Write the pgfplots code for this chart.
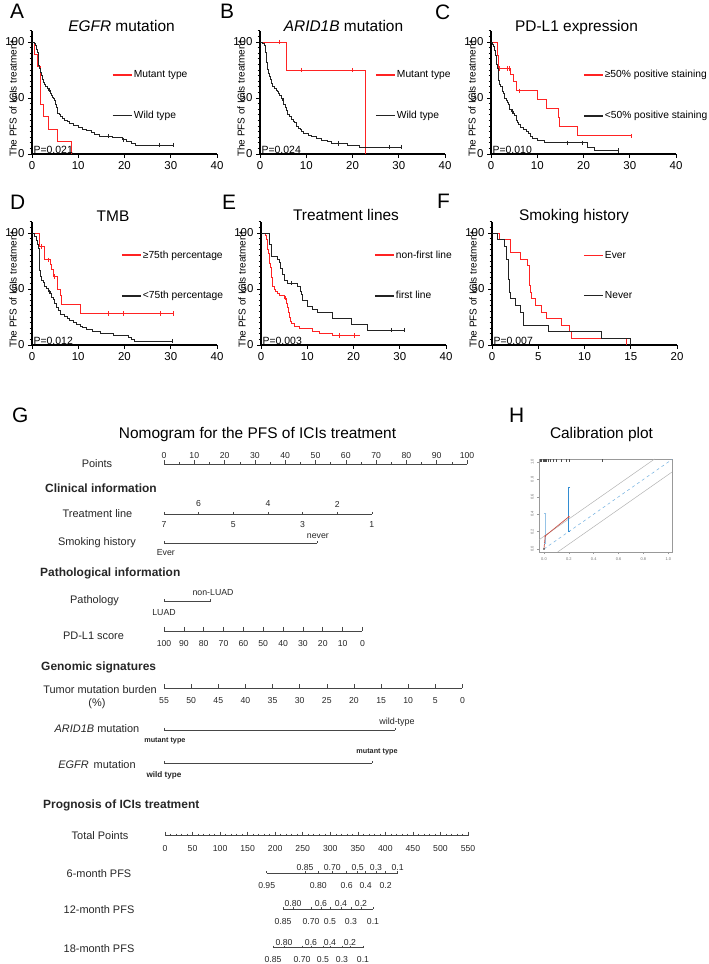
\documentclass[border=0pt]{standalone}
\usepackage{pgfplots}
\pgfplotsset{compat=1.18}
\usepackage{fontspec}
\setmainfont{Liberation Sans}
\definecolor{kmred}{RGB}{255,35,35}
\definecolor{kmblk}{RGB}{35,35,35}
\definecolor{calred}{RGB}{200,80,70}
\definecolor{calblue}{RGB}{50,140,210}
\definecolor{callblue}{RGB}{150,195,230}
\definecolor{nomo}{RGB}{70,70,70}
\tikzset{ptext/.style={anchor=base west, font=\fontsize{10.5}{12}\selectfont, inner sep=0pt}}
\pgfplotsset{
 km/.style={
  scale only axis, width=185bp, height=123.2bp, anchor=south west,
  xmin=0, xmax=40, ymin=0, ymax=110,
  axis lines=left, axis line style={-, line width=1.1bp, black},
  xtick={0,10,20,30,40}, ytick={0,50,100},
  minor ytick={5,10,...,110},
  tick align=outside, major tick length=4bp, minor tick length=2.3bp,
  tick style={black, line width=0.9bp},
  tick label style={font=\fontsize{11.5}{13}\selectfont},
  /pgf/number format/assume math mode=true,
  ylabel={The PFS of ICIs treatment},
  ylabel style={at={(axis description cs:-0.103,0.446)}, anchor=center, font=\fontsize{10}{12}\selectfont},
  clip=false, const plot,
  every axis plot/.append style={line width=0.95bp},
  legend style={draw=none, fill=none, anchor=west, font=\fontsize{10.3}{12}\selectfont, row sep=31bp, inner sep=0pt, column sep=1bp, nodes={inner sep=0.5bp}},
  legend cell align=left,
  legend image code/.code={\draw[##1, line width=1.2bp] (0bp,0bp) -- (19bp,0bp);},
 },
 cens/.style={only marks, mark=|, mark size=2.2bp, forget plot, mark options={line width=0.8bp}},
 nomoaxis/.style={scale only axis, hide axis, clip=false, y dir=reverse, anchor=north west},
 nl/.style={nomo, line width=0.7bp},
 tkM/.style={only marks, mark=|, mark size=2bp, mark options={yshift=2bp, nomo, line width=0.6bp}},
 tkm/.style={only marks, mark=|, mark size=1.1bp, mark options={yshift=1.1bp, nomo, line width=0.5bp}},
 lbl/.style={only marks, mark=none, point meta=explicit symbolic, nodes near coords, nodes near coords align={anchor=center}, every node near coord/.append style={anchor=center, inner sep=0pt, text=black!85, font=#1}},
 lbl/.default={\fontsize{8.7}{9}\selectfont},
}
\newcommand\rowlab[3]{\node[anchor=center, font=\fontsize{11}{13}\selectfont, text=black!85] at (#1bp,#2bp) {#3};}
\newcommand\header[3]{\node[anchor=west, font=\bfseries\fontsize{12}{14}\selectfont, text=black!85, inner sep=0pt] at (#1bp,#2bp) {#3};}
\newcommand\panel[3]{\node[anchor=base west, font=\fontsize{21}{24}\selectfont, inner sep=0pt] at (#1bp,#2bp) {#3};}
\newcommand\ptitle[3]{\node[anchor=base, font=\fontsize{15.5}{18}\selectfont, inner sep=0pt] at (#1bp,#2bp) {#3};}
\begin{document}
\begin{tikzpicture}
\useasboundingbox (0,0) rectangle (709bp,964bp);

% ---------- titles and panel letters
\panel{10}{945.7}{A}\panel{220}{945.7}{B}\panel{435}{944}{C}
\panel{10}{754}{D}\panel{222}{754}{E}\panel{437}{755.7}{F}
\panel{12}{541}{G}\panel{509}{541}{H}
\ptitle{121.5}{932.3}{\textit{EGFR} mutation}
\ptitle{343.5}{932.3}{\textit{ARID1B} mutation}
\ptitle{576.5}{932.3}{PD-L1 expression}
\ptitle{113}{742.3}{TMB}
\ptitle{346}{743}{Treatment lines}
\ptitle{574}{743.3}{Smoking history}
\ptitle{257.5}{525.7}{Nomogram for the PFS of ICIs treatment}
\ptitle{601.5}{525.7}{Calibration plot}

% ---------- A
\begin{axis}[km, at={(32bp,810bp)}, legend style={at={(axis description cs:0.432,0.475)}}]
\addplot[kmred] coordinates {(0,100)(0.6,88.9)(1.15,77.8)(1.75,44.4)(2.45,33.3)(3.55,22.2)(5.5,11.1)(8.6,0)};
\addlegendentry{Mutant type}
\addplot[kmblk] coordinates {(0,100)(0.5,98.4)(0.8,96.8)(1.0,93.7)(1.2,90.5)(1.3,87.3)(1.4,82.5)(1.5,79.4)(1.6,76.2)(1.8,73.0)(2.0,69.8)(2.2,66.7)(2.5,63.5)(2.8,61.9)(3.0,60.3)(3.3,58.7)(3.6,57.1)(3.9,55.6)(4.1,54.0)(4.3,52.4)(4.5,50.8)(4.7,49.2)(4.8,47.6)(5.0,44.4)(5.2,41.3)(5.4,38.1)(5.6,36.5)(5.9,34.9)(6.2,33.3)(6.6,31.7)(7.1,30.2)(7.6,28.6)(8.2,27.0)(9.0,25.4)(10.0,23.8)(11.0,22.2)(11.8,20.6)(12.8,19.0)(13.5,17.5)(14.5,15.9)(17.5,14.3)(19.5,12.7)(20.5,11.1)(21.5,9.5)(22.4,7.9)(30.5,7.9)};
\addlegendentry{Wild type}
\addplot[cens, kmblk] coordinates {(3.75,57.1)(16.5,15.9)(19.7,12.7)(27.5,7.9)(30.5,7.9)};
\node[ptext] at (axis cs:0.3,0.8) {P=0.021};
\end{axis}

% ---------- B
\begin{axis}[km, at={(260bp,810bp)}, legend style={at={(axis description cs:0.622,0.475)}}]
\addplot[kmred] coordinates {(0,100)(5.8,75)(22.7,0)};
\addlegendentry{Mutant type}
\addplot[kmblk] coordinates {(0,100)(0.6,98.5)(0.9,96.9)(1.1,93.8)(1.2,90.8)(1.3,87.7)(1.4,84.6)(1.5,81.5)(1.6,78.5)(1.7,75.4)(1.8,72.3)(2.0,69.2)(2.2,66.2)(2.5,63.1)(2.8,60.0)(3.2,58.5)(3.5,56.9)(3.7,55.4)(4.0,53.8)(4.3,52.3)(4.6,49.2)(4.9,47.7)(5.1,44.6)(5.4,41.5)(5.7,38.5)(6.0,35.4)(6.4,33.8)(6.8,30.8)(7.2,29.2)(7.5,27.7)(7.8,24.6)(8.3,23.1)(8.7,21.5)(9.0,20.0)(9.5,18.5)(10.5,16.9)(11.2,15.4)(12.3,13.8)(13.3,12.3)(14.5,10.8)(15.5,9.2)(19.0,7.7)(21.5,6.2)(30.6,6.2)};
\addlegendentry{Wild type}
\addplot[cens, kmred] coordinates {(4.3,100)(9.0,75)(20.0,75)};
\addplot[cens, kmblk] coordinates {(5.0,47.7)(16.9,9.2)(27.9,6.2)(30.6,6.2)};
\node[ptext] at (axis cs:0.3,0.8) {P=0.024};
\end{axis}

% ---------- C
\begin{axis}[km, at={(491bp,810bp)}, legend style={at={(axis description cs:0.497,0.475)}}]
\addplot[kmred] coordinates {(0,100)(1.3,88.2)(1.7,76.5)(4.3,70.6)(4.9,64.7)(5.5,56.5)(10.0,48.4)(12.0,40.3)(14.5,32.3)(14.9,24.2)(18.8,16.1)(30.4,16.1)};
\addlegendentry{≥50\% positive staining}
\addplot[kmblk] coordinates {(0,100)(0.3,98)(0.6,96)(0.8,92)(1.0,88)(1.1,84)(1.2,80)(1.4,76)(1.6,70)(1.7,66)(1.9,62)(2.1,60)(2.4,56)(2.7,54)(3.0,50)(3.3,48)(3.5,46)(3.8,44)(4.1,40)(4.5,38)(4.9,36)(5.1,34)(5.4,30)(5.7,28)(6.0,26)(6.4,24)(7.0,22)(7.6,20)(8.2,18)(8.6,16)(9.0,14)(10.0,12)(11.5,10)(20.8,6)(22.3,3)(27.5,3)};
\addlegendentry{<50\% positive staining}
\addplot[cens, kmred] coordinates {(1.9,76.5)(3.5,76.5)(4.0,76.5)(6.2,56.5)(30.4,16.1)};
\addplot[cens, kmblk] coordinates {(4.6,38)(16.5,10)(19.7,10)(27.5,3)};
\node[ptext] at (axis cs:0.3,0.8) {P=0.010};
\end{axis}

% ---------- D
\begin{axis}[km, at={(32bp,619bp)}, legend style={at={(axis description cs:0.481,0.564)}}]
\addplot[kmred] coordinates {(0,100)(1.7,88)(2.8,76)(3.9,72)(4.3,67)(4.6,61)(5.5,50)(6.1,44)(6.4,36)(10.5,28)(30.6,28)};
\addlegendentry{≥75th percentage}
\addplot[kmblk] coordinates {(0,100)(0.6,96.6)(0.9,93.2)(1.1,89.8)(1.4,86.4)(1.55,79.7)(1.6,72.9)(1.7,66.1)(1.8,61.0)(2.1,57.6)(2.5,55.9)(2.8,52.5)(3.2,50.8)(3.5,47.5)(3.9,45.8)(4.3,42.4)(4.6,40.7)(4.9,37.3)(5.3,33.9)(5.7,30.5)(6.1,27.1)(7.0,25.4)(7.6,23.7)(8.2,22.0)(9.0,20.3)(9.7,18.6)(10.5,16.9)(11.0,15.3)(11.8,13.6)(13.0,11.9)(14.7,10.2)(17.6,8.5)(20.8,6.8)(21.5,5.1)(22.2,3.4)(30.3,3.4)};
\addlegendentry{<75th percentage}
\addplot[cens, kmred] coordinates {(2.0,88)(3.5,76)(4.8,61)(16.5,28)(19.7,28)(27.7,28)(30.6,28)};
\addplot[cens, kmblk] coordinates {(3.7,47.5)(30.3,3.4)};
\node[ptext] at (axis cs:0.3,0.8) {P=0.012};
\end{axis}

% ---------- E
\begin{axis}[km, at={(261bp,619bp)}, legend style={at={(axis description cs:0.611,0.564)}}]
\addplot[kmred] coordinates {(0,100)(0.9,97.9)(1.1,93.8)(1.3,89.6)(1.5,85.4)(1.6,81.3)(1.8,77.1)(1.9,72.9)(2.0,68.8)(2.2,64.6)(2.3,60.4)(2.4,56.3)(2.5,52.1)(2.9,50.0)(3.2,47.9)(3.6,45.8)(4.0,43.8)(5.0,41.7)(5.5,37.5)(5.8,33.3)(6.0,29.2)(6.1,25.0)(6.3,20.8)(6.6,18.8)(7.2,16.7)(8.3,14.6)(11.2,12.5)(12.6,10.4)(15.5,8.3)(21.4,8.3)};
\addlegendentry{non-first line}
\addplot[kmblk] coordinates {(0,100)(1.8,89.5)(2.2,78.9)(3.6,76.3)(4.0,73.7)(4.3,68.4)(4.7,63.2)(5.0,57.9)(5.8,55.3)(7.9,52.6)(8.6,47.4)(8.8,44.7)(9.0,39.5)(10.1,34.2)(11.2,31.6)(12.3,28.9)(15.5,23.7)(19.5,18.4)(23.1,13.2)(31.0,13.2)};
\addlegendentry{first line}
\addplot[cens, kmred] coordinates {(5.3,41.7)(16.9,8.3)(20.2,8.3)};
\addplot[cens, kmblk] coordinates {(6.5,55.3)(28.1,13.2)(31.0,13.2)};
\node[ptext] at (axis cs:0.3,0.8) {P=0.003};
\end{axis}

% ---------- F
\begin{axis}[km, at={(492bp,619bp)}, xmax=20, xtick={0,5,10,15,20}, legend style={at={(axis description cs:0.492,0.564)}}]
\addplot[kmred] coordinates {(0,100)(0.8,94.1)(2.0,82.4)(3.1,76.5)(3.8,70.6)(4.0,58.8)(4.1,52.9)(4.2,47.1)(4.3,41.2)(4.7,35.3)(5.4,29.4)(5.9,23.5)(7.5,17.6)(8.4,11.8)(8.6,5.9)(14.5,0)};
\addlegendentry{Ever}
\addplot[kmblk] coordinates {(0,100)(0.6,94.1)(1.4,88.2)(1.6,76.5)(1.8,58.8)(1.9,47.1)(2.05,41.2)(2.5,35.3)(3.1,29.4)(3.4,17.6)(6.1,11.8)(11.8,5.9)(15.0,0)};
\addlegendentry{Never}
\node[ptext] at (axis cs:0.15,0.8) {P=0.007};
\end{axis}

% ---------- G : nomogram, predictors (x in points)
\rowlab{97}{500}{Points}
\header{45}{475.7}{Clinical information}
\rowlab{97.5}{450.7}{Treatment line}
\rowlab{97}{421.3}{Smoking history}
\header{40}{390.7}{Pathological information}
\rowlab{94.5}{363.3}{Pathology}
\rowlab{93.5}{328.3}{PD-L1 score}
\header{41}{296.7}{Genomic signatures}
\rowlab{100}{274.7}{Tumor mutation burden}
\rowlab{97}{260.7}{(\%)}
\rowlab{97}{235}{\textit{ARID1B} mutation}
\rowlab{97}{199}{\textit{EGFR}\, mutation}
\header{43}{158.3}{Prognosis of ICIs treatment}
\rowlab{100}{128}{Total Points}
\rowlab{99}{90}{6-month PFS}
\rowlab{99}{54}{12-month PFS}
\rowlab{99}{15}{18-month PFS}

\begin{axis}[nomoaxis, xmin=0, xmax=100, ymin=440, ymax=800, width=303bp, height=360bp, at={(164bp,524bp)}]
% Points
\addplot[nl] coordinates {(0,464.3)(100,464.3)};
\addplot[tkM] coordinates {(0,464.3)(10,464.3)(20,464.3)(30,464.3)(40,464.3)(50,464.3)(60,464.3)(70,464.3)(80,464.3)(90,464.3)(100,464.3)};
\addplot[tkm] coordinates {(5,464.3)(15,464.3)(25,464.3)(35,464.3)(45,464.3)(55,464.3)(65,464.3)(75,464.3)(85,464.3)(95,464.3)};
\addplot[lbl] coordinates {(0,456)[0](10,456)[10](20,456)[20](30,456)[30](40,456)[40](50,456)[50](60,456)[60](70,456)[70](80,456)[80](90,456)[90](100,456)[100]};
% Treatment line
\addplot[nl] coordinates {(0,514)(68.6,514)};
\addplot[tkm] coordinates {(0,514)(11.43,514)(22.87,514)(34.3,514)(45.73,514)(57.17,514)(68.6,514)};
\addplot[lbl] coordinates {(11.43,504)[6](34.3,504)[4](57.17,504)[2]};
\addplot[lbl] coordinates {(0,524.3)[7](22.87,524.3)[5](45.73,524.3)[3](68.6,524.3)[1]};
% Smoking history
\addplot[nl] coordinates {(0,543.3)(50.5,543.3)};
\addplot[tkm] coordinates {(0,543.3)(50.5,543.3)};
\addplot[lbl={\fontsize{8.8}{9}\selectfont}] coordinates {(50.8,536)[never]};
\addplot[lbl={\fontsize{8.8}{9}\selectfont}] coordinates {(0.6,552.7)[Ever]};
% Pathology
\addplot[nl] coordinates {(0,601.7)(15.2,601.7)};
\addplot[tkm] coordinates {(0,601.7)(15.2,601.7)};
\addplot[lbl={\fontsize{8.8}{9}\selectfont}] coordinates {(16.2,592.7)[non-LUAD]};
\addplot[lbl={\fontsize{8.8}{9}\selectfont}] coordinates {(0,612.3)[LUAD]};
% PD-L1 score
\addplot[nl] coordinates {(0,631)(65.5,631)};
\addplot[tkM] coordinates {(0,631)(6.55,631)(13.1,631)(19.65,631)(26.2,631)(32.75,631)(39.3,631)(45.85,631)(52.4,631)(58.95,631)(65.5,631)};
\addplot[lbl] coordinates {(0,643.3)[100](6.55,643.3)[90](13.1,643.3)[80](19.65,643.3)[70](26.2,643.3)[60](32.75,643.3)[50](39.3,643.3)[40](45.85,643.3)[30](52.4,643.3)[20](58.95,643.3)[10](65.5,643.3)[0]};
% Tumor mutation burden
\addplot[nl] coordinates {(0,688.3)(98.5,688.3)};
\addplot[tkM] coordinates {(0,688.3)(8.95,688.3)(17.91,688.3)(26.86,688.3)(35.82,688.3)(44.77,688.3)(53.73,688.3)(62.68,688.3)(71.64,688.3)(80.59,688.3)(89.55,688.3)(98.5,688.3)};
\addplot[lbl] coordinates {(0,700.7)[55](8.95,700.7)[50](17.91,700.7)[45](26.86,700.7)[40](35.82,700.7)[35](44.77,700.7)[30](53.73,700.7)[25](62.68,700.7)[20](71.64,700.7)[15](80.59,700.7)[10](89.55,700.7)[5](98.5,700.7)[0]};
% ARID1B mutation
\addplot[nl] coordinates {(0,730)(76.2,730)};
\addplot[tkm] coordinates {(0,730)(76.2,730)};
\addplot[lbl={\bfseries\fontsize{7.3}{8}\selectfont}] coordinates {(0.3,740.7)[mutant type]};
\addplot[lbl={\fontsize{9}{10}\selectfont}] coordinates {(76.9,721.7)[wild-type]};
% EGFR mutation
\addplot[nl] coordinates {(0,763.3)(68.6,763.3)};
\addplot[tkm] coordinates {(0,763.3)(68.6,763.3)};
\addplot[lbl={\bfseries\fontsize{8.2}{9}\selectfont}] coordinates {(0,775)[wild type]};
\addplot[lbl={\bfseries\fontsize{7.3}{8}\selectfont}] coordinates {(70.3,751.7)[mutant type]};
\end{axis}

% ---------- G : nomogram, prognosis (x in total points)
\begin{axis}[nomoaxis, xmin=0, xmax=550, ymin=800, ymax=964, width=303bp, height=164bp, at={(165bp,164bp)}]
\addplot[nl] coordinates {(0,835.7)(550,835.7)};
\addplot[tkM] coordinates {(0,835.7)(50,835.7)(100,835.7)(150,835.7)(200,835.7)(250,835.7)(300,835.7)(350,835.7)(400,835.7)(450,835.7)(500,835.7)(550,835.7)};
\addplot[tkm] coordinates {(10,835.7)(20,835.7)(30,835.7)(40,835.7)(60,835.7)(70,835.7)(80,835.7)(90,835.7)(110,835.7)(120,835.7)(130,835.7)(140,835.7)(160,835.7)(170,835.7)(180,835.7)(190,835.7)(210,835.7)(220,835.7)(230,835.7)(240,835.7)(260,835.7)(270,835.7)(280,835.7)(290,835.7)(310,835.7)(320,835.7)(330,835.7)(340,835.7)(360,835.7)(370,835.7)(380,835.7)(390,835.7)(410,835.7)(420,835.7)(430,835.7)(440,835.7)(460,835.7)(470,835.7)(480,835.7)(490,835.7)(510,835.7)(520,835.7)(530,835.7)(540,835.7)};
\addplot[lbl] coordinates {(0,849)[0](50,849)[50](100,849)[100](150,849)[150](200,849)[200](250,849)[250](300,849)[300](350,849)[350](400,849)[400](450,849)[450](500,849)[500](550,849)[550]};
% 6-month
\addplot[nl] coordinates {(184.6,873.3)(422.4,873.3)};
\addplot[tkm] coordinates {(184.6,873.3)(254.1,873.3)(278.3,873.3)(303.7,873.3)(329.8,873.3)(349.8,873.3)(364.3,873.3)(383.0,873.3)(400.6,873.3)(422.4,873.3)};
\addplot[lbl] coordinates {(254.1,867.3)[0.85](303.7,867.3)[0.70](349.8,867.3)[0.5](383.0,867.3)[0.3](422.4,867.3)[0.1]};
\addplot[lbl] coordinates {(184.6,886)[0.95](278.3,886)[0.80](329.8,886)[0.6](364.3,886)[0.4](400.6,886)[0.2]};
% 12-month
\addplot[nl] coordinates {(214.2,909.3)(377.6,909.3)};
\addplot[tkm] coordinates {(214.2,909.3)(232.3,909.3)(265.0,909.3)(283.2,909.3)(299.5,909.3)(319.5,909.3)(337.6,909.3)(355.8,909.3)(377.6,909.3)};
\addplot[lbl] coordinates {(232.3,903.3)[0.80](283.2,903.3)[0.6](319.5,903.3)[0.4](355.8,903.3)[0.2]};
\addplot[lbl] coordinates {(214.2,921.7)[0.85](265.0,921.7)[0.70](299.5,921.7)[0.5](337.6,921.7)[0.3](377.6,921.7)[0.1]};
% 18-month
\addplot[nl] coordinates {(196.0,947.7)(359.4,947.7)};
\addplot[tkm] coordinates {(196.0,947.7)(216.0,947.7)(248.7,947.7)(265.0,947.7)(286.8,947.7)(299.5,947.7)(321.3,947.7)(335.8,947.7)(359.4,947.7)};
\addplot[lbl] coordinates {(216.0,942.7)[0.80](265.0,942.7)[0.6](299.5,942.7)[0.4](335.8,942.7)[0.2]};
\addplot[lbl] coordinates {(196.0,960)[0.85](248.7,960)[0.70](286.8,960)[0.5](321.3,960)[0.3](359.4,960)[0.1]};
\end{axis}

% ---------- H : calibration plot
\begin{axis}[scale only axis, width=133bp, height=93bp, at={(539bp,412bp)}, anchor=south west,
  xmin=-0.04, xmax=1.03, ymin=-0.035, ymax=1.035,
  axis line style={black!40, line width=0.6bp},
  xtick={0,0.2,0.4,0.6,0.8,1}, ytick={0,0.2,0.4,0.6,0.8,1},
  xticklabels={0.0,0.2,0.4,0.6,0.8,1.0}, yticklabels={0.0,0.2,0.4,0.6,0.8,1.0},
  tick pos=left, tick align=outside, major tick length=1.8bp,
  tick style={black!40, line width=0.4bp},
  tick label style={font=\fontsize{4}{4}\selectfont, text=black!55},
  yticklabel style={rotate=90, anchor=south},
  xticklabel style={yshift=-0.5bp}]
\addplot[black!30, line width=0.5bp] coordinates {(-0.04,0.105)(0.89,1.035)};
\addplot[black!30, line width=0.5bp] coordinates {(0.11,-0.035)(1.03,0.885)};
\addplot[calblue!70, dashed, line width=0.5bp] coordinates {(0,0)(1.03,1.03)};
\addplot[callblue, line width=1bp, mark=-, mark size=1.2bp] coordinates {(0.01,0.06)(0.01,0.41)};
\addplot[calblue, line width=0.8bp, mark=-, mark size=1.2bp] coordinates {(0.2,0.2)(0.2,0.71)};
\addplot[calred, line width=0.7bp] coordinates {(0,0)(0.01,0.15)(0.2,0.37)};
\addplot[only marks, mark=*, mark size=0.6bp, calred] coordinates {(0.01,0.15)(0.2,0.37)};
\addplot[only marks, mark=*, mark size=0.6bp, black!70] coordinates {(0,0)};
\addplot[only marks, mark=|, mark size=1.6bp, black!70, mark options={line width=0.3bp}] coordinates {(-0.03,1.015)(-0.02,1.015)(-0.01,1.015)(0,1.015)(0.005,1.015)(0.01,1.015)(0.02,1.015)(0.03,1.015)(0.05,1.015)(0.07,1.015)(0.1,1.015)(0.14,1.015)(0.175,1.015)(0.2,1.015)(0.465,1.015)};
\end{axis}
\end{tikzpicture}
\end{document}
